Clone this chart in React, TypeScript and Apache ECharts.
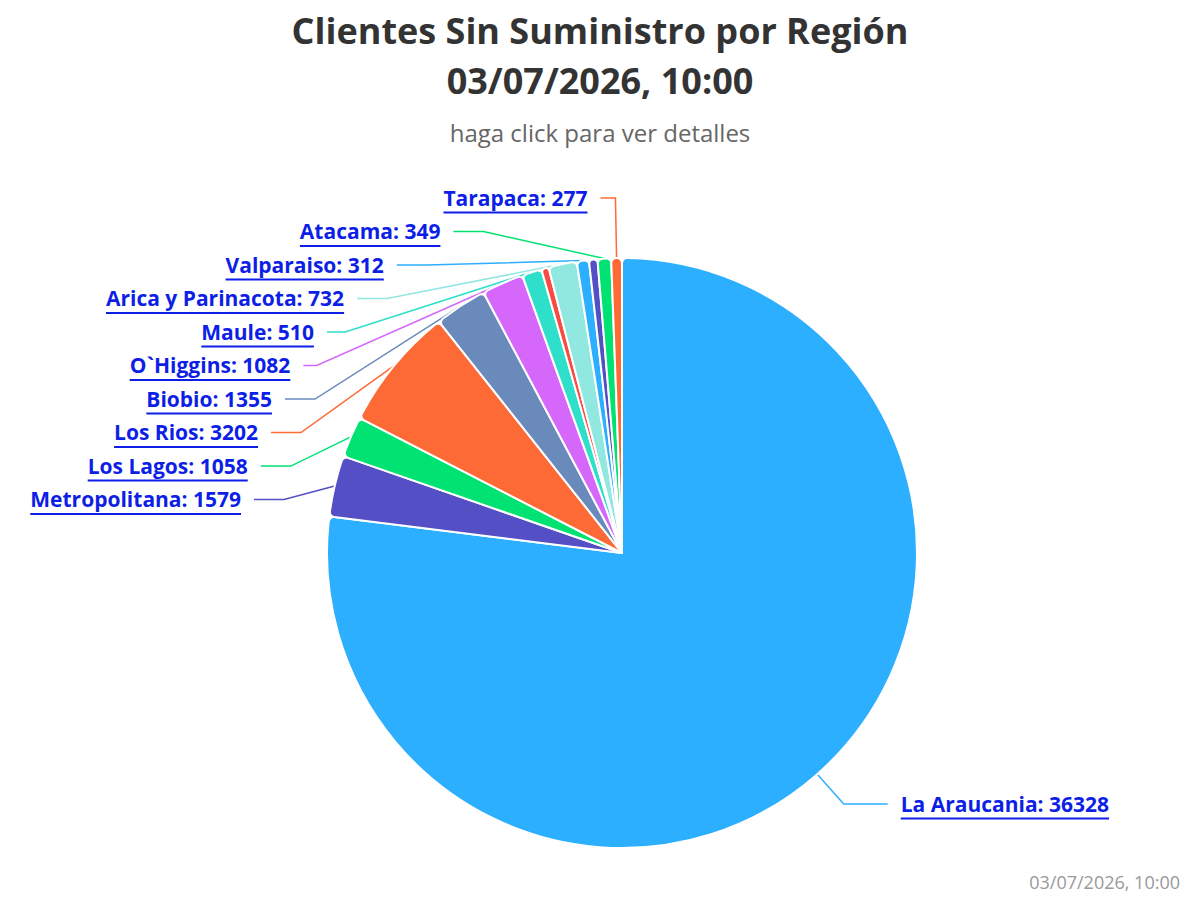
import React, { useEffect, useRef } from "react";
import * as echarts from "echarts";

const regions = [
  "La Araucania",
  "Metropolitana",
  "Los Lagos",
  "Los Rios",
  "Biobio",
  "O`Higgins",
  "Maule",
  "Ñuble",
  "Arica y Parinacota",
  "Valparaiso",
  "Coquimbo",
  "Atacama",
  "Tarapaca",
];
const clients = [36328, 1579, 1058, 3202, 1355, 1082, 510, 190, 732, 312, 220, 349, 277];
const colors = [
  "#2caffe",
  "#544fc5",
  "#00e272",
  "#fe6a35",
  "#6b8abc",
  "#d568fb",
  "#2ee0ca",
  "#fa4b42",
  "#91e8e1",
  "#2caffe",
  "#544fc5",
  "#00e272",
  "#fe6a35",
];
const hiddenLabels = ["Ñuble", "Coquimbo"];

const titleLine1 = "Clientes Sin Suministro por Región";
const titleLine2 = "03/07/2026, 10:00";
const subtitleText = "haga click para ver detalles";
const creditText = "03/07/2026, 10:00";

const FONT = "'Open Sans', 'Noto Sans', sans-serif";
const LINK = "#0d1fe6";

// connector shape tweaks per slice (style only)
const connectorFor = (name: string) => {
  if (name === "Tarapaca") return { length2: 15 };
  if (name === "La Araucania") return { length: 40, length2: 44 };
  return {};
};

export default function App() {
  const ref = useRef<HTMLDivElement>(null);
  useEffect(() => {
    if (!ref.current) return;
    const chart = echarts.init(ref.current, undefined, { renderer: "svg" });
    const data = regions.map((name, i) => {
      const hide = hiddenLabels.includes(name);
      return {
        name,
        value: clients[i],
        itemStyle: { color: colors[i] },
        label: { show: !hide },
        labelLine: { show: !hide, ...connectorFor(name) },
      };
    });
    const titleStyle = {
      fontFamily: FONT,
      fontSize: 36,
      fontWeight: "bold",
      color: "#333333",
      lineHeight: 42,
    };
    chart.setOption({
      animation: false,
      backgroundColor: "#ffffff",
      title: [
        { text: titleLine1, left: "center", top: 9, padding: 0, textStyle: titleStyle },
        { text: titleLine2, left: "center", top: 59, padding: 0, textStyle: titleStyle },
        {
          text: subtitleText,
          left: "center",
          top: 115,
          textStyle: {
            fontFamily: FONT,
            fontSize: 24,
            fontWeight: "normal",
            color: "#666666",
          },
        },
        {
          text: creditText,
          right: 15,
          bottom: 4,
          textStyle: {
            fontFamily: FONT,
            fontSize: 18,
            fontWeight: "normal",
            color: "#999999",
          },
        },
      ],
      series: [
        {
          type: "pie",
          center: [622, 553],
          radius: 295,
          startAngle: 90,
          clockwise: true,
          avoidLabelOverlap: true,
          itemStyle: { borderColor: "#ffffff", borderWidth: 2, borderRadius: 5 },
          label: {
            show: true,
            position: "outside",
            distanceToLabelLine: 13,
            padding: [6, 0, 5, 0],
            formatter: (p: any) => `{t|${p.name}: ${p.value}}\n{u|}`,
            rich: {
              t: {
                fontFamily: FONT,
                fontSize: 21,
                fontWeight: "bold",
                color: LINK,
                lineHeight: 28,
              },
              u: {
                width: "100%",
                height: 2,
                lineHeight: 2,
                backgroundColor: LINK,
              },
            },
          },
          labelLine: {
            show: true,
            length: 60,
            length2: 30,
            lineStyle: { width: 1.5 },
          },
          emphasis: { disabled: true },
          data,
        },
      ],
    });
    return () => chart.dispose();
  }, []);
  return (
    <div
      ref={ref}
      style={{ position: "fixed", left: 0, top: 0, width: 1200, height: 900 }}
    />
  );
}
